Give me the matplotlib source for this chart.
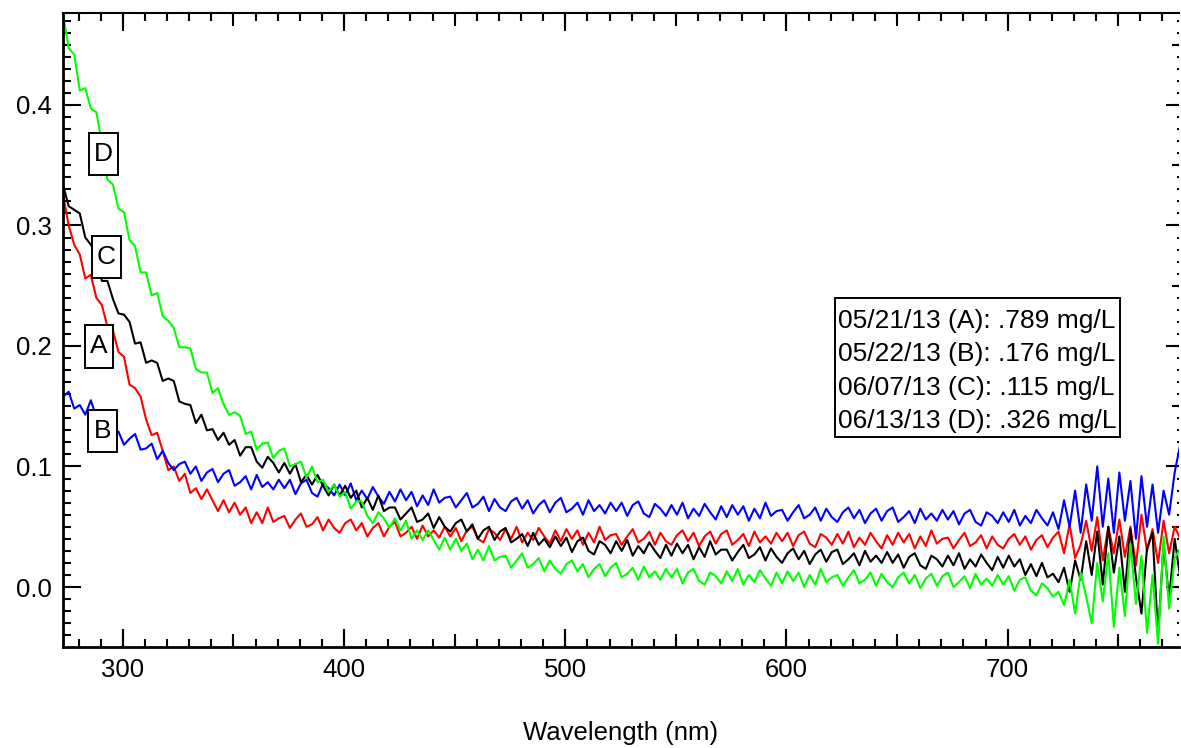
import numpy as np
import matplotlib.pyplot as plt
from matplotlib.patches import Rectangle
from matplotlib.ticker import MultipleLocator

plt.rcParams['font.family'] = ['Liberation Sans', 'DejaVu Sans']

# wavelength samples (nm), 2.5 nm steps
wavelength = np.arange(273, 778.1, 2.5)

# A: 05/21/13
abs_a = [
    0.325, 0.300, 0.284, 0.276, 0.256, 0.259, 0.240, 0.234, 0.216, 0.213,
    0.195, 0.191, 0.168, 0.165, 0.158, 0.139, 0.126, 0.128, 0.113, 0.097,
    0.100, 0.088, 0.094, 0.078, 0.082, 0.073, 0.081, 0.072, 0.063, 0.072,
    0.062, 0.070, 0.060, 0.066, 0.053, 0.062, 0.053, 0.066, 0.054, 0.057,
    0.059, 0.049, 0.056, 0.061, 0.050, 0.052, 0.058, 0.047, 0.056, 0.049,
    0.045, 0.053, 0.056, 0.047, 0.053, 0.042, 0.049, 0.053, 0.042, 0.050,
    0.054, 0.042, 0.045, 0.050, 0.040, 0.051, 0.042, 0.047, 0.041, 0.050,
    0.042, 0.049, 0.038, 0.047, 0.050, 0.040, 0.037, 0.048, 0.045, 0.039,
    0.048, 0.040, 0.050, 0.037, 0.045, 0.039, 0.049, 0.042, 0.036, 0.047,
    0.038, 0.048, 0.040, 0.047, 0.035, 0.045, 0.037, 0.050, 0.039, 0.043,
    0.044, 0.035, 0.042, 0.048, 0.037, 0.040, 0.046, 0.035, 0.045, 0.038,
    0.035, 0.043, 0.047, 0.038, 0.045, 0.034, 0.042, 0.046, 0.036, 0.044,
    0.047, 0.035, 0.039, 0.044, 0.034, 0.046, 0.037, 0.042, 0.036, 0.045,
    0.038, 0.045, 0.034, 0.043, 0.046, 0.036, 0.033, 0.044, 0.041, 0.035,
    0.044, 0.036, 0.046, 0.033, 0.041, 0.035, 0.045, 0.038, 0.032, 0.043,
    0.035, 0.045, 0.037, 0.044, 0.032, 0.042, 0.034, 0.047, 0.036, 0.040,
    0.041, 0.032, 0.039, 0.045, 0.034, 0.037, 0.043, 0.032, 0.042, 0.035,
    0.032, 0.040, 0.044, 0.035, 0.042, 0.031, 0.039, 0.043, 0.033, 0.041,
    0.046, 0.028, 0.052, 0.024, 0.035, 0.055, 0.030, 0.058, 0.022, 0.050,
    0.028, 0.056, 0.025, 0.050, 0.018, 0.060, 0.030, 0.048, 0.020, 0.055,
    0.028, 0.050, 0.040,
]

# B: 05/22/13
abs_b = [
    0.158, 0.162, 0.148, 0.151, 0.143, 0.155, 0.141, 0.146, 0.129, 0.129,
    0.129, 0.118, 0.123, 0.127, 0.114, 0.115, 0.119, 0.106, 0.113, 0.103,
    0.097, 0.102, 0.104, 0.094, 0.100, 0.088, 0.095, 0.098, 0.087, 0.094,
    0.097, 0.084, 0.087, 0.092, 0.081, 0.093, 0.083, 0.087, 0.081, 0.089,
    0.082, 0.089, 0.077, 0.086, 0.089, 0.078, 0.075, 0.086, 0.082, 0.076,
    0.085, 0.076, 0.086, 0.072, 0.080, 0.073, 0.083, 0.075, 0.069, 0.079,
    0.071, 0.081, 0.072, 0.079, 0.067, 0.076, 0.068, 0.081, 0.070, 0.074,
    0.075, 0.066, 0.072, 0.078, 0.066, 0.069, 0.075, 0.063, 0.073, 0.066,
    0.063, 0.071, 0.074, 0.065, 0.072, 0.061, 0.068, 0.072, 0.062, 0.070,
    0.074, 0.062, 0.065, 0.070, 0.060, 0.072, 0.063, 0.068, 0.061, 0.070,
    0.063, 0.070, 0.059, 0.068, 0.071, 0.061, 0.058, 0.069, 0.065, 0.059,
    0.068, 0.060, 0.070, 0.057, 0.065, 0.059, 0.069, 0.062, 0.056, 0.067,
    0.058, 0.068, 0.060, 0.067, 0.055, 0.065, 0.057, 0.070, 0.059, 0.063,
    0.064, 0.055, 0.062, 0.068, 0.057, 0.060, 0.066, 0.055, 0.065, 0.058,
    0.054, 0.062, 0.066, 0.057, 0.064, 0.053, 0.061, 0.065, 0.055, 0.063,
    0.066, 0.054, 0.058, 0.063, 0.053, 0.065, 0.056, 0.061, 0.055, 0.064,
    0.056, 0.063, 0.052, 0.061, 0.064, 0.054, 0.051, 0.062, 0.059, 0.053,
    0.062, 0.054, 0.064, 0.051, 0.059, 0.053, 0.064, 0.057, 0.051, 0.062,
    0.048, 0.072, 0.050, 0.080, 0.045, 0.085, 0.055, 0.100, 0.050, 0.090,
    0.045, 0.095, 0.055, 0.088, 0.040, 0.092, 0.050, 0.085, 0.045, 0.080,
    0.060, 0.095, 0.118,
]

# C: 06/07/13
abs_c = [
    0.333, 0.316, 0.313, 0.310, 0.290, 0.284, 0.277, 0.254, 0.254, 0.239,
    0.227, 0.226, 0.220, 0.202, 0.203, 0.186, 0.188, 0.186, 0.171, 0.173,
    0.171, 0.154, 0.152, 0.151, 0.136, 0.143, 0.130, 0.131, 0.122, 0.128,
    0.118, 0.122, 0.109, 0.116, 0.116, 0.104, 0.099, 0.108, 0.103, 0.095,
    0.103, 0.094, 0.102, 0.087, 0.093, 0.085, 0.093, 0.084, 0.076, 0.085,
    0.076, 0.084, 0.074, 0.080, 0.066, 0.074, 0.064, 0.076, 0.063, 0.066,
    0.066, 0.056, 0.061, 0.066, 0.054, 0.056, 0.061, 0.049, 0.058, 0.050,
    0.046, 0.053, 0.056, 0.046, 0.052, 0.040, 0.047, 0.050, 0.039, 0.046,
    0.049, 0.037, 0.040, 0.044, 0.034, 0.045, 0.035, 0.040, 0.033, 0.042,
    0.034, 0.041, 0.029, 0.038, 0.041, 0.030, 0.027, 0.038, 0.035, 0.028,
    0.038, 0.030, 0.039, 0.026, 0.034, 0.028, 0.037, 0.030, 0.024, 0.035,
    0.026, 0.036, 0.028, 0.035, 0.023, 0.033, 0.025, 0.038, 0.027, 0.031,
    0.031, 0.022, 0.029, 0.035, 0.024, 0.027, 0.033, 0.022, 0.032, 0.025,
    0.020, 0.028, 0.032, 0.023, 0.030, 0.019, 0.027, 0.031, 0.021, 0.029,
    0.031, 0.019, 0.023, 0.028, 0.018, 0.030, 0.021, 0.026, 0.020, 0.029,
    0.020, 0.027, 0.016, 0.025, 0.028, 0.018, 0.015, 0.026, 0.023, 0.017,
    0.026, 0.018, 0.028, 0.015, 0.023, 0.017, 0.027, 0.020, 0.014, 0.025,
    0.016, 0.026, 0.017, 0.023, 0.010, 0.019, 0.009, 0.020, 0.008, 0.011,
    0.004, 0.016, -0.004, 0.022, 0.006, 0.038, 0.010, 0.046, 0.002, 0.050,
    0.012, 0.042, -0.004, 0.048, 0.008, -0.022, 0.032, 0.045, -0.040, 0.036,
    -0.010, 0.040, 0.008,
]

# D: 06/13/13
abs_d = [
    0.475, 0.447, 0.442, 0.412, 0.414, 0.397, 0.394, 0.369, 0.338, 0.334,
    0.314, 0.311, 0.288, 0.283, 0.261, 0.261, 0.242, 0.244, 0.225, 0.221,
    0.215, 0.199, 0.199, 0.198, 0.181, 0.178, 0.178, 0.161, 0.165, 0.152,
    0.143, 0.145, 0.142, 0.127, 0.129, 0.114, 0.119, 0.120, 0.107, 0.113,
    0.115, 0.100, 0.102, 0.104, 0.091, 0.100, 0.087, 0.089, 0.079, 0.085,
    0.075, 0.079, 0.065, 0.071, 0.071, 0.059, 0.053, 0.062, 0.057, 0.049,
    0.057, 0.047, 0.055, 0.040, 0.047, 0.039, 0.047, 0.039, 0.031, 0.041,
    0.031, 0.040, 0.030, 0.036, 0.023, 0.031, 0.022, 0.034, 0.022, 0.025,
    0.026, 0.016, 0.022, 0.028, 0.016, 0.019, 0.024, 0.013, 0.022, 0.015,
    0.011, 0.019, 0.022, 0.013, 0.019, 0.008, 0.015, 0.019, 0.009, 0.016,
    0.020, 0.008, 0.011, 0.016, 0.006, 0.017, 0.008, 0.013, 0.006, 0.015,
    0.008, 0.015, 0.003, 0.012, 0.015, 0.005, 0.002, 0.012, 0.009, 0.003,
    0.013, 0.005, 0.015, 0.002, 0.010, 0.004, 0.014, 0.007, 0.001, 0.012,
    0.003, 0.013, 0.005, 0.012, 0.000, 0.010, 0.002, 0.015, 0.004, 0.008,
    0.010, 0.001, 0.008, 0.014, 0.003, 0.006, 0.012, 0.001, 0.011, 0.004,
    0.000, 0.008, 0.012, 0.003, 0.010, -0.001, 0.007, 0.011, 0.001, 0.009,
    0.012, 0.000, 0.004, 0.009, -0.001, 0.011, 0.002, 0.007, 0.001, 0.010,
    0.002, 0.009, -0.003, 0.006, 0.008, -0.003, -0.007, 0.003, -0.001, -0.008,
    -0.004, -0.015, 0.006, -0.022, 0.012, -0.008, -0.030, 0.020, -0.012, 0.028,
    -0.033, 0.016, -0.024, 0.036, -0.014, 0.026, -0.038, 0.010, -0.047, 0.042,
    -0.018, 0.024, 0.032,
]

legend_lines = [
    '05/21/13 (A): .789 mg/L',
    '05/22/13 (B): .176 mg/L',
    '06/07/13 (C): .115 mg/L',
    '06/13/13 (D): .326 mg/L',
]
curve_labels = ['D', 'C', 'A', 'B']
label_x = [291.4, 292.5, 289.2, 290.7]
label_y = [0.359, 0.274, 0.1996, 0.1295]

fig = plt.figure(figsize=(11.81, 7.48), dpi=100)
ax = fig.add_axes([0.0533, 0.135, 0.9447, 0.8476])

ax.plot(wavelength, abs_a, color='#ff0000', lw=1.5)
ax.plot(wavelength, abs_b, color='#0000ff', lw=1.5)
ax.plot(wavelength, abs_c, color='#000000', lw=1.5)
ax.plot(wavelength, abs_d, color='#00ff00', lw=1.5)

ax.set_xlim(272.9, 777.3)
ax.set_ylim(-0.0498, 0.4763)

ax.xaxis.set_major_locator(MultipleLocator(100))
ax.xaxis.set_minor_locator(MultipleLocator(10))
ax.yaxis.set_major_locator(MultipleLocator(0.1))
ax.yaxis.set_minor_locator(MultipleLocator(0.01))
ax.yaxis.set_major_formatter('{x:.1f}')

ax.tick_params(axis='x', which='both', direction='in', top=True, bottom=True,
               labelsize=18.5, pad=8)
ax.tick_params(axis='y', which='both', direction='in', left=True, right=False,
               labelsize=18.5, pad=8)
ax.tick_params(which='major', length=13, width=1.5)
ax.tick_params(which='minor', length=5.8, width=1.5)

ax.spines['right'].set_visible(False)
ax.spines['left'].set_linewidth(2)
ax.spines['bottom'].set_linewidth(2)
ax.spines['top'].set_linewidth(1.5)

# medium ticks every 50 nm on bottom and top
for side in ['bottom', 'top']:
    sec = ax.secondary_xaxis(side)
    sec.xaxis.set_major_locator(MultipleLocator(50))
    sec.tick_params(direction='in', length=9.4, width=1.5,
                    labelbottom=False, labeltop=False)
    for s in sec.spines.values():
        s.set_visible(False)

# right side ticks
sec_r = ax.secondary_yaxis('right')
sec_r.yaxis.set_major_locator(MultipleLocator(0.1))
sec_r.yaxis.set_minor_locator(MultipleLocator(0.01))
sec_r.tick_params(which='major', direction='in', length=9.4, width=1.5, labelright=False)
sec_r.tick_params(which='minor', direction='in', length=1.5, width=1.5)
for s in sec_r.spines.values():
    s.set_visible(False)
sec_r2 = ax.secondary_yaxis('right')
sec_r2.yaxis.set_major_locator(MultipleLocator(0.05))
sec_r2.tick_params(direction='in', length=5, width=1.5, labelright=False)
for s in sec_r2.spines.values():
    s.set_visible(False)

# boxed curve letters
box_w, box_h = 13.1, 0.035
for letter, lx, ly in zip(curve_labels, label_x, label_y):
    ax.add_patch(Rectangle((lx - box_w / 2, ly - box_h / 2), box_w, box_h,
                           fc='white', ec='black', lw=1.4, zorder=5))
    ax.text(lx, ly, letter, fontsize=19, ha='center', va='center', zorder=6)

# legend box
ax.add_patch(Rectangle((0.6918, 0.3312), 0.2554, 0.2192, transform=ax.transAxes,
                       fc='white', ec='black', lw=1.4, zorder=6))
for i, line in enumerate(legend_lines):
    ax.text(0.6945, 0.5032 - i * 0.0526, line, transform=ax.transAxes,
            fontsize=19, ha='left', va='baseline', zorder=7)

ax.set_xlabel('Wavelength (nm)', fontsize=18.5, labelpad=28)

fig.savefig('out.png', dpi=100)
